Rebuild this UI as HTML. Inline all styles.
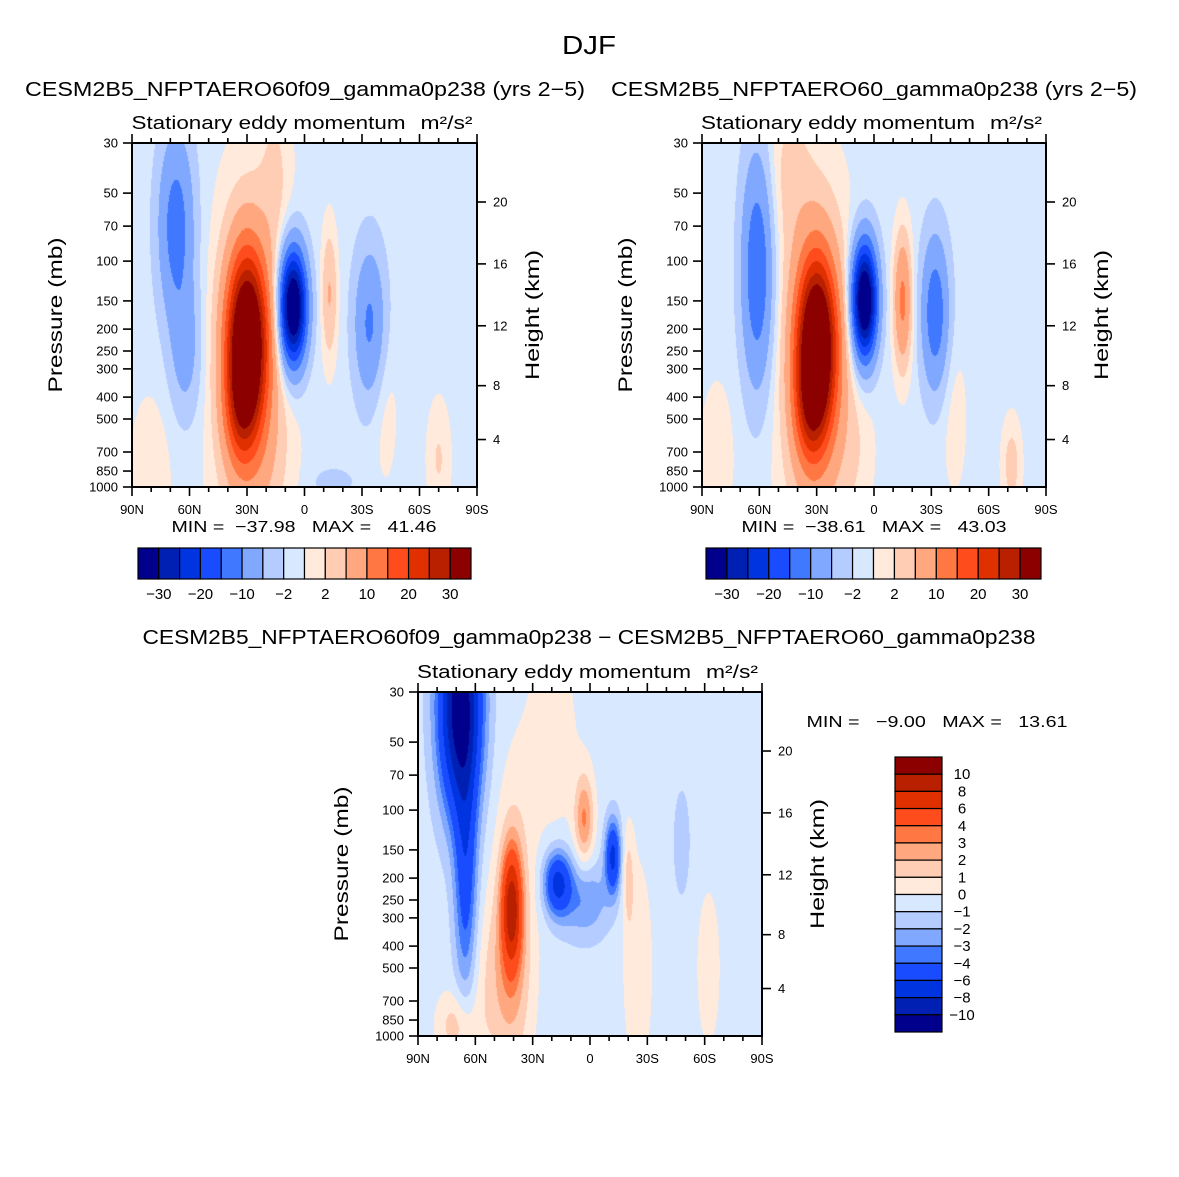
<!DOCTYPE html>
<html><head><meta charset="utf-8"><style>
html,body{margin:0;padding:0;background:#fff;}
#wrap{position:relative;width:1179px;height:1177px;overflow:hidden;}
canvas{position:absolute;}
svg{position:absolute;left:0;top:0;}
text{font-family:"Liberation Sans",sans-serif;fill:#000;white-space:pre;}
</style></head><body>
<div id="wrap">
<canvas id="c1" width="345" height="344" style="left:132px;top:143px"></canvas>
<canvas id="c2" width="344" height="344" style="left:702px;top:143px"></canvas>
<canvas id="c3" width="344" height="344" style="left:418px;top:692px"></canvas>
<svg id="s" width="1179" height="1177"></svg>
</div>
<script>
// ---- data ----
const colors = ["#00008c","#0020b4","#0034e0","#1a4cff","#4078ff","#80a8ff","#b4ccff","#d8e8ff","#ffeadc","#ffccb4","#ffa880","#ff7844","#ff4c1c","#e03000","#b82000","#8c0000"];
const levels12 = [-30,-25,-20,-15,-10,-5,-2,0,2,5,10,15,20,25,30];
const levels3 = [-10,-8,-6,-4,-3,-2,-1,0,1,2,3,4,6,8,10];
const cbLabels12 = ["−30","−20","−10","−2","2","10","20","30"];
const cbLabelIdx12 = [0,2,4,6,8,10,12,14];
const cbLabels3 = ["−10","−8","−6","−4","−3","−2","−1","0","1","2","3","4","6","8","10"];
const pTicks = [30,50,70,100,150,200,250,300,400,500,700,850,1000];
const hTicks = [4,8,12,16,20];
const latTicks = [90,60,30,0,-30,-60,-90];
const latLabels = ["90N","60N","30N","0","30S","60S","90S"];
// blob features: lat, pressure(mb), amplitude, lat-width(deg), logp-width
const base1 = -0.8;
const lat1 = [67,62,30,34,28,6,-13,-34,15,-70,-42,80,-15,22];
const pres1 = [70,250,230,450,320,160,140,190,40,750,450,800,950,700];
const amp1 = [-12,-6,42,10,8,-40,6,-10,2.5,3,1.8,1.8,-3,1.5];
const wl1 = [9,8,10,8,18,7,4,8,8,6,7,12,10,12];
const wv1 = [0.4,0.3,0.38,0.25,0.75,0.25,0.28,0.33,0.4,0.25,0.35,0.35,0.06,0.3];
const base2 = -0.8;
const lat2 = [61,30,34,30,5,-15,-32,45,-72,-42,82,10];
const pres2 = [110,240,450,320,150,150,170,40,800,500,700,700];
const amp2 = [-14,42,10,8,-40,12,-13,3,4,1.8,1.8,1.5];
const wl2 = [8,10,8,18,6.5,4.5,7,12,5,7,10,10];
const wv2 = [0.5,0.38,0.25,0.75,0.25,0.28,0.33,0.35,0.2,0.35,0.35,0.3];
const base3 = -0.5;
const lat3 = [68,65,41,40,17,-12,3,3,-20,-48,20,70,50,-25,-62];
const pres3 = [35,200,270,330,210,160,250,110,200,140,50,900,600,500,500];
const amp3 = [-11,-4.5,7.5,2.5,-6,-6,-2.5,3.5,1.8,-1.5,1,2,1.5,1.2,1];
const wl3 = [11,6,5,10,7,4,13,5,3,4,15,10,15,8,7];
const wv3 = [0.45,0.55,0.25,0.6,0.14,0.16,0.17,0.2,0.22,0.22,0.5,0.15,0.4,0.5,0.4];

// ---- axes functions ----
const LP0 = Math.log10(30), LP1 = Math.log10(1000);
function yP(p, top, H){ return top + H*(Math.log10(p)-LP0)/(LP1-LP0); }
function xL(lat, left, W){ return left + W*(90-lat)/180; }
function pOfH(km){ const h=km*1000; if(h<=11000) return 1013.25*Math.pow(1-2.25577e-5*h,5.25588); return 226.32*Math.exp(-(h-11000)/6341.6); }
function field(lat, p, base, la, pr, am, wl, wv){
  let v=base; const lp=Math.log10(p);
  for(let i=0;i<la.length;i++){ const dx=(lat-la[i])/wl[i], dy=(lp-Math.log10(pr[i]))/wv[i]; v+=am[i]*Math.exp(-dx*dx-dy*dy); }
  return v;
}
function colorOf(v, lv){ let k=0; while(k<lv.length && v>=lv[k]) k++; return colors[k]; }
function drawField(id, base, la, pr, am, wl, wv, lv){
  const c=document.getElementById(id), ctx=c.getContext('2d'); const W=c.width,H=c.height,st=1;
  for(let y=0;y<H;y+=st) for(let x=0;x<W;x+=st){
    const lat=90-180*(x+0.5)/W; const p=Math.pow(10,LP0+(LP1-LP0)*(y+0.5)/H);
    ctx.fillStyle=colorOf(field(lat,p,base,la,pr,am,wl,wv),lv); ctx.fillRect(x,y,st,st);
  }
}
drawField('c1',base1,lat1,pres1,amp1,wl1,wv1,levels12);
drawField('c2',base2,lat2,pres2,amp2,wl2,wv2,levels12);
drawField('c3',base3,lat3,pres3,amp3,wl3,wv3,levels3);

const S=document.getElementById('s'), NS='http://www.w3.org/2000/svg';
function el(tag, attrs, parent){ const e=document.createElementNS(NS,tag); for(const k in attrs) e.setAttribute(k,attrs[k]); (parent||S).appendChild(e); return e; }
function txt(str, x, y, size, opts){ opts=opts||{}; const a={x:x,y:y,'font-size':size,'text-anchor':opts.anchor||'middle'};
  if(opts.len){a.textLength=opts.len;a.lengthAdjust='spacingAndGlyphs';}
  if(opts.rot) a.transform='rotate(-90 '+x+' '+y+')';
  const t=el('text',a); t.setAttributeNS('http://www.w3.org/XML/1998/namespace','xml:space','preserve'); t.textContent=str; return t; }

function axes(L,T,W,H,name){
  const g=el('g',{});
  
  
  el('rect',{x:L,y:T,width:W,height:H,fill:'none',stroke:'#000','stroke-width':2},g);
  for(let i=0;i<pTicks.length;i++){ const y=yP(pTicks[i],T,H);
    el('line',{x1:L-9,y1:y,x2:L,y2:y,stroke:'#000','stroke-width':1.6},g);
    const t=txt(String(pTicks[i]),L-14,y+4.5,13,{anchor:'end'});
    
     }
  for(let i=0;i<hTicks.length;i++){ const y=yP(pOfH(hTicks[i]),T,H);
    el('line',{x1:L+W,y1:y,x2:L+W+9,y2:y,stroke:'#000','stroke-width':1.6},g);
    const t=txt(String(hTicks[i]),L+W+16,y+4.5,13,{anchor:'start'});
    
     }
  for(let lat=90;lat>=-90;lat-=10){ const x=xL(lat,L,W); const major=(lat%30===0); const len=major?9:5;
    el('line',{x1:x,y1:T+H,x2:x,y2:T+H+len,stroke:'#000','stroke-width':1.6},g);
    el('line',{x1:x,y1:T,x2:x,y2:T-len,stroke:'#000','stroke-width':1.6},g); }
  for(let i=0;i<latTicks.length;i++){ const t=txt(latLabels[i],xL(latTicks[i],L,W),T+H+27,13);
    
     }
  const pt=txt('Pressure (mb)',L-70,T+H/2,19,{rot:true,len:155});
  
  
  const ht=txt('Height (km)',L+W+62,T+H/2,19,{rot:true,len:130});
  
  
  const s1=txt('Stationary eddy momentum',L+W/2-36,T-14,18,{len:274});
  
  
  const s2=txt('m²/s²',L+W/2+142,T-14,18,{len:52});
  
  
}
axes(132,143,345,344,'panel1');
axes(702,143,344,344,'panel2');
axes(418,692,344,344,'diff');

let t;
t=txt('DJF',589,54,26,{len:54});
 
t=txt('CESM2B5_NFPTAERO60f09_gamma0p238 (yrs 2−5)',305,96,20,{len:560});
 
t=txt('CESM2B5_NFPTAERO60_gamma0p238 (yrs 2−5)',874,96,20,{len:526});
 
t=txt('CESM2B5_NFPTAERO60f09_gamma0p238 − CESM2B5_NFPTAERO60_gamma0p238',589,644,20,{len:893});
 
t=txt('MIN =  −37.98   MAX =   41.46',304,532,16,{len:265});
 
t=txt('MIN =  −38.61   MAX =   43.03',874,532,16,{len:265});
 
t=txt('MIN =   −9.00   MAX =   13.61',937,727,16,{len:261});
 

function hbar(L,T,W,H,name){
  const bw=W/16;
  for(let i=0;i<16;i++){ const r=el('rect',{x:L+i*bw,y:T,width:bw,height:H,fill:colors[i],stroke:'#000','stroke-width':1.2});
      }
  for(let j=0;j<cbLabels12.length;j++){ const tt=txt(cbLabels12[j],L+(cbLabelIdx12[j]+1)*bw,T+H+20,15);
      }
}
hbar(138,548,333,31,'panel1-colorbar');
hbar(706,548,335,31,'panel2-colorbar');
(function(){ const L=895,T=757,W=47,H=275,bh=H/16;
  for(let i=0;i<16;i++){ const r=el('rect',{x:L,y:T+i*bh,width:W,height:bh,fill:colors[15-i],stroke:'#000','stroke-width':1.2});
      }
  for(let j=0;j<cbLabels3.length;j++){ const tt=txt(cbLabels3[14-j],962,T+(j+1)*bh+5,15);
      }
})();
</script>
</body></html>
